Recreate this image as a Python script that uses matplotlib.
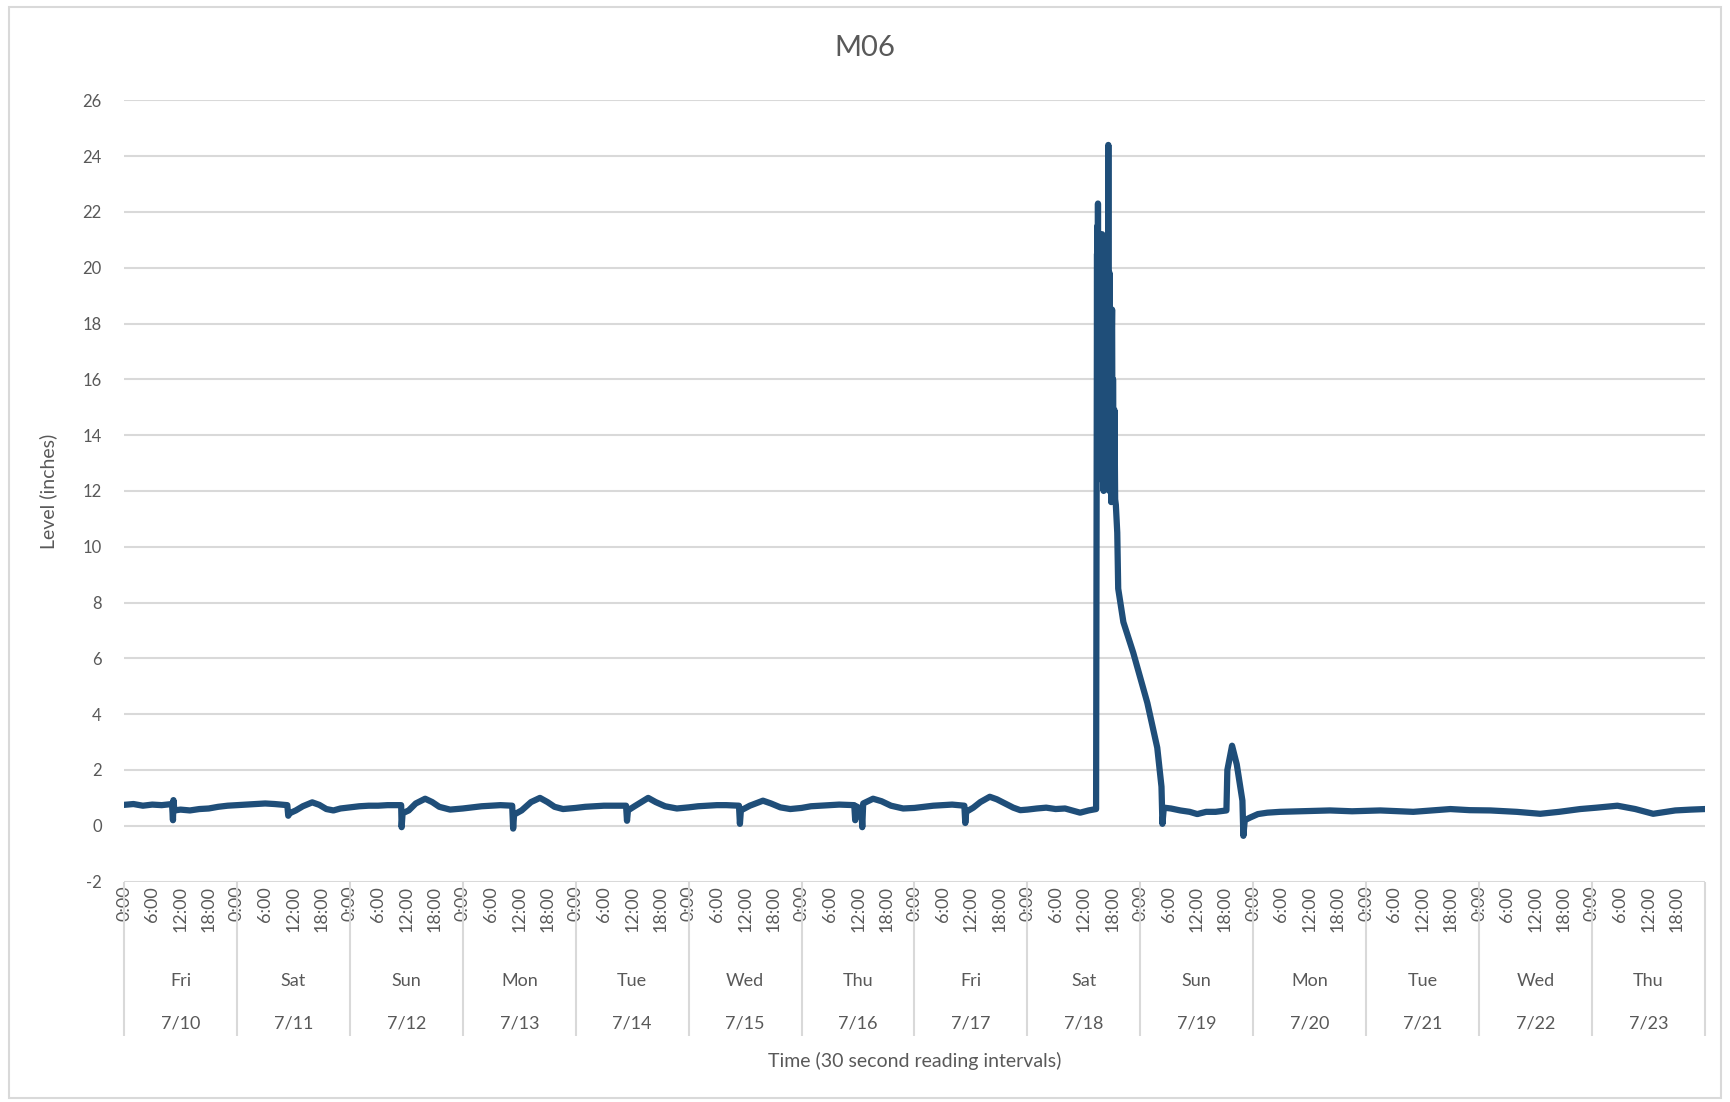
import matplotlib
matplotlib.use('Agg')
import matplotlib.pyplot as plt
import numpy as np
from matplotlib.patches import Rectangle

plt.rcParams['font.family'] = ['Lato', 'DejaVu Sans']
plt.rcParams['axes.unicode_minus'] = False

# hours since Fri 7/10 0:00 -> level (inches)
base_hours = [0, 2, 4, 6, 8, 10.2, 10.4, 10.5, 10.7, 12, 14, 16, 18, 20, 22, 24,
              26, 28, 30, 32, 34.7, 34.9, 35.2, 36.5, 38, 40, 41.5, 43, 44.5, 46, 48,
              50, 52, 54, 56, 58.9, 59.0, 59.2, 60.5, 62, 64, 65.5, 67, 69.3, 72,
              74, 76, 78, 80, 82.5, 82.7, 82.9, 84.5, 86.5, 88.4, 90, 91.5, 93.3, 96,
              98, 100, 102, 104, 106.7, 106.9, 107.1, 108.5, 111.4, 113, 115, 117.5, 120,
              122, 124, 126, 128, 130.7, 130.9, 131.1, 133, 135.8, 137.5, 139.5, 141.6, 144,
              146, 148, 150, 152, 155.2, 155.4, 155.6, 156.7, 156.9, 157.1, 159.2, 161, 163, 165.6, 168,
              170, 172, 174, 176, 178.6, 178.8, 179.0, 180.5, 182, 184, 185.5, 187, 189, 190.5, 192,
              194, 196, 198, 200, 203.2, 205, 206.6]
base_level = [0.75, 0.78, 0.72, 0.76, 0.74, 0.78, 0.2, 0.92, 0.55, 0.58, 0.55, 0.6, 0.62, 0.68, 0.72, 0.74,
              0.76, 0.78, 0.8, 0.78, 0.74, 0.36, 0.45, 0.55, 0.7, 0.84, 0.75, 0.6, 0.55, 0.62, 0.66,
              0.7, 0.72, 0.72, 0.74, 0.74, -0.05, 0.45, 0.55, 0.8, 0.97, 0.85, 0.68, 0.58, 0.62,
              0.66, 0.7, 0.72, 0.74, 0.72, -0.1, 0.4, 0.55, 0.85, 1.0, 0.85, 0.68, 0.6, 0.64,
              0.68, 0.7, 0.72, 0.72, 0.72, 0.18, 0.55, 0.7, 1.0, 0.85, 0.7, 0.62, 0.66,
              0.7, 0.72, 0.74, 0.74, 0.72, 0.07, 0.55, 0.72, 0.9, 0.8, 0.66, 0.6, 0.64,
              0.7, 0.72, 0.74, 0.76, 0.74, 0.2, 0.7, 0.6, -0.05, 0.8, 0.97, 0.88, 0.72, 0.62, 0.64,
              0.68, 0.72, 0.74, 0.76, 0.72, 0.1, 0.5, 0.65, 0.85, 1.04, 0.95, 0.82, 0.65, 0.56, 0.58,
              0.62, 0.65, 0.6, 0.62, 0.47, 0.55, 0.6]

storm_hours = [206.8, 206.85, 206.9, 206.95, 207.0, 207.05, 207.1, 207.2, 207.3, 207.4, 207.5,
               207.6, 207.7, 207.8, 207.9, 208.0, 208.1, 208.2, 208.3, 208.4, 208.5,
               208.65, 208.8, 208.9, 209.0, 209.1, 209.2, 209.3, 209.4, 209.5, 209.6,
               209.7, 209.8, 209.9, 210.0, 210.1, 210.2, 210.35, 210.5, 210.65, 210.8,
               211.1, 211.3, 212.4, 214.5, 217.5, 219.6, 220.5, 220.7]
storm_level = [20.5, 12.6, 21.5, 13.0, 22.3, 12.8, 21.0, 13.2, 21.2, 12.5, 20.0,
               13.0, 20.8, 12.4, 21.2, 13.2, 20.2, 12.0, 19.6, 12.8, 19.4,
               13.5, 20.5, 12.6, 21.0, 13.0, 24.4, 12.2, 12.0, 19.8, 12.4,
               18.0, 11.6, 17.0, 18.5, 12.2, 16.0, 11.8, 14.9, 11.7, 11.5,
               10.5, 8.5, 7.3, 6.2, 4.4, 2.8, 1.4, 0.07]

after_hours = [221.0, 222.5, 224.5, 226.5, 228.1, 230, 232, 234.3, 234.5, 235.5, 236.5,
               237.7, 237.9, 238.2, 239.4, 241, 243, 245.7, 250, 256.3, 261, 267, 274,
               278, 281.9, 286, 290.4, 296, 301, 305, 309.5, 313, 317.4, 321.2, 325,
               329.7, 333, 336]
after_level = [0.65, 0.62, 0.55, 0.5, 0.42, 0.5, 0.5, 0.55, 2.0, 2.87, 2.2,
               0.9, -0.36, 0.2, 0.3, 0.42, 0.47, 0.5, 0.52, 0.55, 0.52, 0.55, 0.5,
               0.55, 0.6, 0.56, 0.55, 0.5, 0.43, 0.5, 0.6, 0.65, 0.72, 0.6, 0.43,
               0.55, 0.58, 0.6]

days = ['Fri', 'Sat', 'Sun', 'Mon', 'Tue', 'Wed', 'Thu',
        'Fri', 'Sat', 'Sun', 'Mon', 'Tue', 'Wed', 'Thu']
dates = ['7/10', '7/11', '7/12', '7/13', '7/14', '7/15', '7/16',
         '7/17', '7/18', '7/19', '7/20', '7/21', '7/22', '7/23']
hour_labels = ['0:00', '6:00', '12:00', '18:00']

hours = np.array(base_hours + storm_hours + after_hours)
level = np.array(base_level + storm_level + after_level)

txt = '#595959'
grid = '#D9D9D9'

fig = plt.figure(figsize=(17.3, 11.02), dpi=100)
ax = fig.add_axes([0.0717, 0.200, 0.9138, 0.709])

ax.plot(hours, level, color='#1F4E79', lw=4.5, solid_joinstyle='round',
        solid_capstyle='round')

ax.set_xlim(0, 24 * len(days))
ax.set_ylim(-2, 26)
ax.set_yticks(np.arange(-2, 27, 2))
ax.yaxis.grid(True, color=grid, lw=1.5)
ax.set_axisbelow(True)
for s in ax.spines.values():
    s.set_visible(False)

ax.set_xticks(np.arange(0, 24 * len(days), 6))
ax.set_xticklabels(hour_labels * len(days), rotation=90)
ax.tick_params(axis='x', length=0, pad=3, labelsize=13, labelcolor=txt)
ax.tick_params(axis='y', length=0, pad=16, labelsize=12, labelcolor=txt)

# multi-level category axis: separators, weekday and date rows
tr = ax.get_xaxis_transform()
ax.vlines(np.arange(0, 24 * len(days) + 1, 24), -0.198, 0, transform=tr,
          colors=grid, lw=1.5, clip_on=False)
for i in range(len(days)):
    ax.text(i * 24 + 12, -0.127, days[i], transform=tr, ha='center', va='center',
            fontsize=13, color=txt)
    ax.text(i * 24 + 12, -0.182, dates[i], transform=tr, ha='center', va='center',
            fontsize=13, color=txt)

ax.set_ylabel('Level (inches)', fontsize=14, color=txt)
ax.yaxis.set_label_coords(-0.0424, 0.5)
ax.set_xlabel('Time (30 second reading intervals)', fontsize=14, color=txt)
ax.xaxis.set_label_coords(0.5, -0.229)
ax.xaxis.label.set_va('center')

fig.text(0.5, 0.956, 'M06', ha='center', va='center', fontsize=21, color=txt)
fig.patches.append(Rectangle((0.005, 0.004), 0.99, 0.99, transform=fig.transFigure,
                             fill=False, edgecolor=grid, lw=1.5))

fig.savefig('out.png', dpi=100, facecolor='white')
